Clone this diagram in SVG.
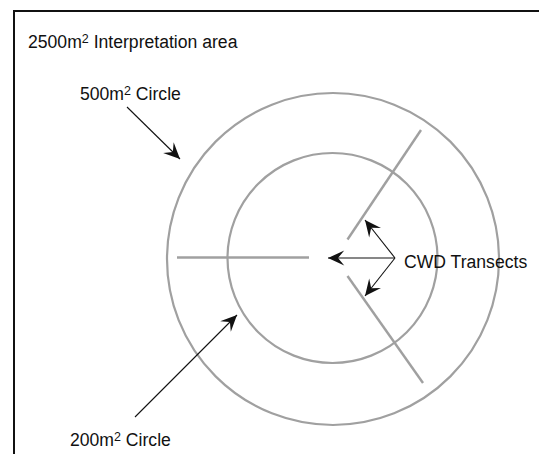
<svg xmlns="http://www.w3.org/2000/svg" width="539" height="454" viewBox="0 0 539 454">
<style>
.lbl{font-family:"Liberation Sans",Arial,sans-serif;font-size:17.6px;fill:#111}
.sup{font-size:12.5px}
.ring{fill:none;stroke:#a0a0a0;stroke-width:2.2}
.tr{stroke:#a0a0a0;stroke-width:2.4;fill:none}
.arr{stroke:#111;stroke-width:1.1;fill:none;marker-end:url(#ah)}
</style>
<defs>
<marker id="ah" markerUnits="userSpaceOnUse" markerWidth="20" markerHeight="20" viewBox="-14 -7 16 14" refX="0" refY="0" orient="auto">
<path d="M0,0 L-13,-6 L-8,0 L-13,6 Z" fill="#111"/>
</marker>
</defs>
<rect width="539" height="454" fill="#fff"/>
<path id="frame" d="M14,454 V11 H539" fill="none" stroke="#111" stroke-width="2"/>
<g id="outer-circle"><circle class="ring" cx="333" cy="259" r="166"/></g>
<g id="inner-circle"><circle class="ring" cx="332.5" cy="258" r="105"/></g>
<g id="transects">
<line class="tr" x1="177" y1="257.5" x2="309" y2="257.5"/>
<line class="tr" x1="347.5" y1="239.5" x2="421" y2="130"/>
<line class="tr" x1="347.5" y1="276" x2="423" y2="383"/>
</g>
<g id="connectors">
<line class="arr" x1="127" y1="107" x2="180" y2="159"/>
<line class="arr" x1="135" y1="417" x2="237" y2="315"/>
<line class="arr" x1="395" y1="258" x2="328" y2="258"/>
<line class="arr" x1="395" y1="258" x2="365" y2="220"/>
<line class="arr" x1="395" y1="258" x2="365" y2="296"/>
</g>
<g id="label-area"><text class="lbl" x="28" y="48">2500m<tspan class="sup" dy="-5.5">2</tspan><tspan dy="5.5"> Interpretation area</tspan></text></g>
<g id="label-500"><text class="lbl" x="80" y="100">500m<tspan class="sup" dy="-5.5">2</tspan><tspan dy="5.5"> Circle</tspan></text></g>
<g id="label-200"><text class="lbl" x="70" y="446">200m<tspan class="sup" dy="-5.5">2</tspan><tspan dy="5.5"> Circle</tspan></text></g>
<g id="label-cwd"><text class="lbl" x="404" y="268">CWD Transects</text></g>
</svg>
